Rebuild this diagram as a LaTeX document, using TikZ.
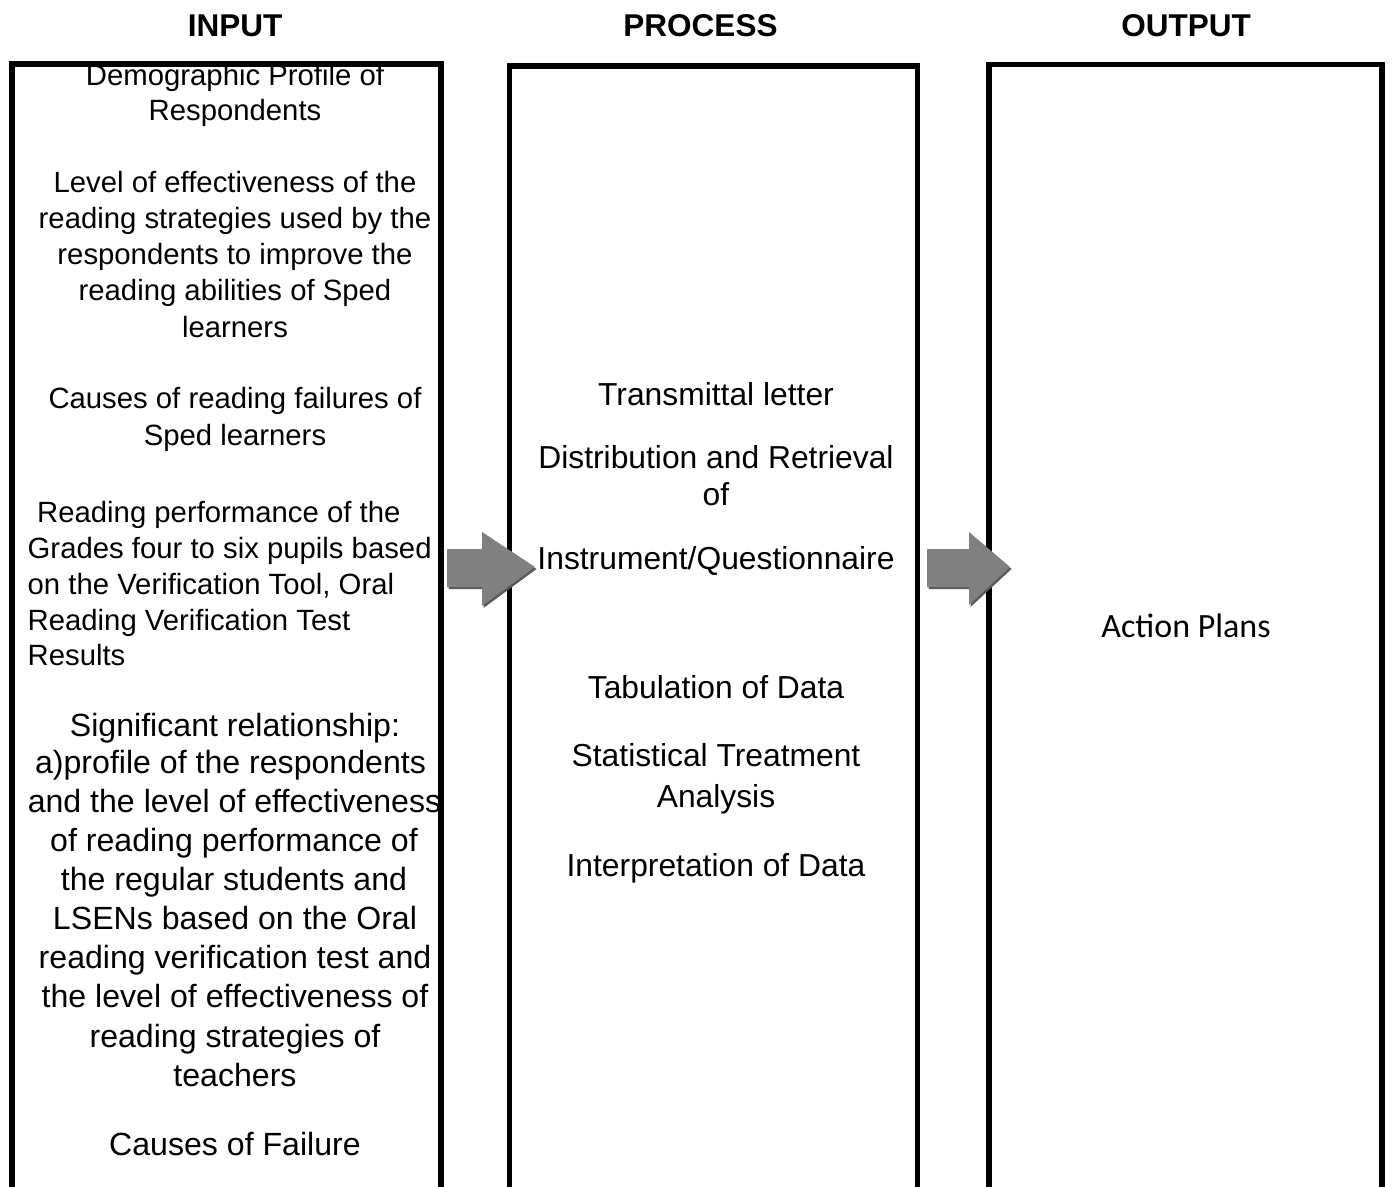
\documentclass[tikz,border=0pt]{standalone}
\usepackage{fontspec}
\setmainfont{Liberation Sans}
\newfontfamily\calfont{Carlito}
\definecolor{arrowgray}{HTML}{808080}
\definecolor{arrowshadow}{HTML}{5A5A5A}
\begin{document}
\begin{tikzpicture}[x=1pt,y=-1pt,
  txt/.style={anchor=base,inner sep=0pt,font=\fontsize{29.3}{36}\selectfont},
  txtw/.style={anchor=base west,inner sep=0pt,font=\fontsize{29.3}{36}\selectfont},
  txtb/.style={anchor=base,inner sep=0pt,font=\fontsize{31.8}{39}\selectfont},
  txts/.style={anchor=base,inner sep=0pt,font=\fontsize{32.1}{39}\selectfont},
  hdr/.style={anchor=base,inner sep=0pt,font=\fontsize{31.5}{38}\selectfont\bfseries},
  frame/.style={line width=5.8pt,black,line join=miter},
  blockarrow/.style={fill=arrowgray,draw=none},
  blockshadow/.style={fill=arrowshadow,draw=none}]
\useasboundingbox (0,0) rectangle (1392,1186);
\clip (0,0) rectangle (1392,1186);
% headers
\node[hdr] (hin) at (235,36) {INPUT};
\node[hdr] (hpr) at (700.5,36) {PROCESS};
\node[hdr] (hout) at (1186,36) {OUTPUT};
% left column text
\begin{scope}
\clip (12,64) rectangle (441,1190);
\node[txt] (l1) at (235,85) {Demographic Profile of};
\end{scope}
\node[txt] (l2) at (235,120) {Respondents};
\node[txt] (l3) at (235,192) {Level of effectiveness of the};
\node[txt] (l4) at (235,228) {reading strategies used by the};
\node[txt] (l5) at (235,264) {respondents to improve the};
\node[txt] (l6) at (235,300) {reading abilities of Sped};
\node[txt] (l7) at (235,337) {learners};
\node[txt] (l8) at (235,408) {Causes of reading failures of};
\node[txt] (l9) at (235,445) {Sped learners};
\node[txtw] (l10) at (37,522) {Reading performance of the};
\node[txtw] (l11) at (27.5,558) {Grades four to six pupils based};
\node[txtw] (l12) at (27.5,594) {on the Verification Tool, Oral};
\node[txtw] (l13) at (27.5,630) {Reading Verification Test};
\node[txtw] (l14) at (27.5,665) {Results};
\node[txts] (s1) at (235,736) {Significant relationship:};
\node[txts] (s2) at (230.5,773) {a)profile of the respondents};
\node[txts] (s3) at (234.5,812) {and the level of effectiveness};
\node[txts] (s4) at (234,851) {of reading performance of};
\node[txts] (s5) at (234,890) {the regular students and};
\node[txts] (s6) at (235,929) {LSENs based on the Oral};
\node[txts] (s7) at (235,968) {reading verification test and};
\node[txts] (s8) at (235,1007) {the level of effectiveness of};
\node[txts] (s9) at (235,1047) {reading strategies of};
\node[txts] (s10) at (235,1086) {teachers};
\node[txts] (s11) at (235,1155) {Causes of Failure};
% middle column text
\node[txtb] (m1) at (716,405) {Transmittal letter};
\node[txtb] (m2) at (716,468) {Distribution and Retrieval};
\node[txtb] (m3) at (716,505) {of};
\node[txtb] (m4) at (716,569) {Instrument/Questionnaire};
\node[txtb] (m5) at (716,698) {Tabulation of Data};
\node[txtb] (m6) at (716,766) {Statistical Treatment};
\node[txtb] (m7) at (716,807) {Analysis};
\node[txtb] (m8) at (716,876) {Interpretation of Data};
% right column text
\node[anchor=base,inner sep=0pt,font=\calfont\fontsize{34}{40}\selectfont] (r1) at (1186,637) {Action Plans};
% frames (open at the bottom)
\draw[frame] (12.3,1200) -- (12.3,64) -- (441,64) -- (441,1200);
\draw[frame] (509.5,1200) -- (509.5,65.7) -- (917.5,65.7) -- (917.5,1200);
\draw[frame] (989,1200) -- (989,64.5) -- (1382,64.5) -- (1382,1200);
% block arrows
\fill[blockshadow] (448.5,551) -- (483.5,551) -- (483.5,534) -- (536.5,569) -- (483.5,608) -- (483.5,589) -- (448.5,589) -- cycle;
\fill[blockarrow] (447,549) -- (482,549) -- (482,532) -- (535,567) -- (482,606) -- (482,587) -- (447,587) -- cycle;
\fill[blockshadow] (928.5,551) -- (970.5,551) -- (970.5,534) -- (1011.5,569) -- (970.5,607) -- (970.5,589) -- (928.5,589) -- cycle;
\fill[blockarrow] (927,549) -- (969,549) -- (969,532) -- (1010,567) -- (969,605) -- (969,587) -- (927,587) -- cycle;
\end{tikzpicture}
\end{document}
